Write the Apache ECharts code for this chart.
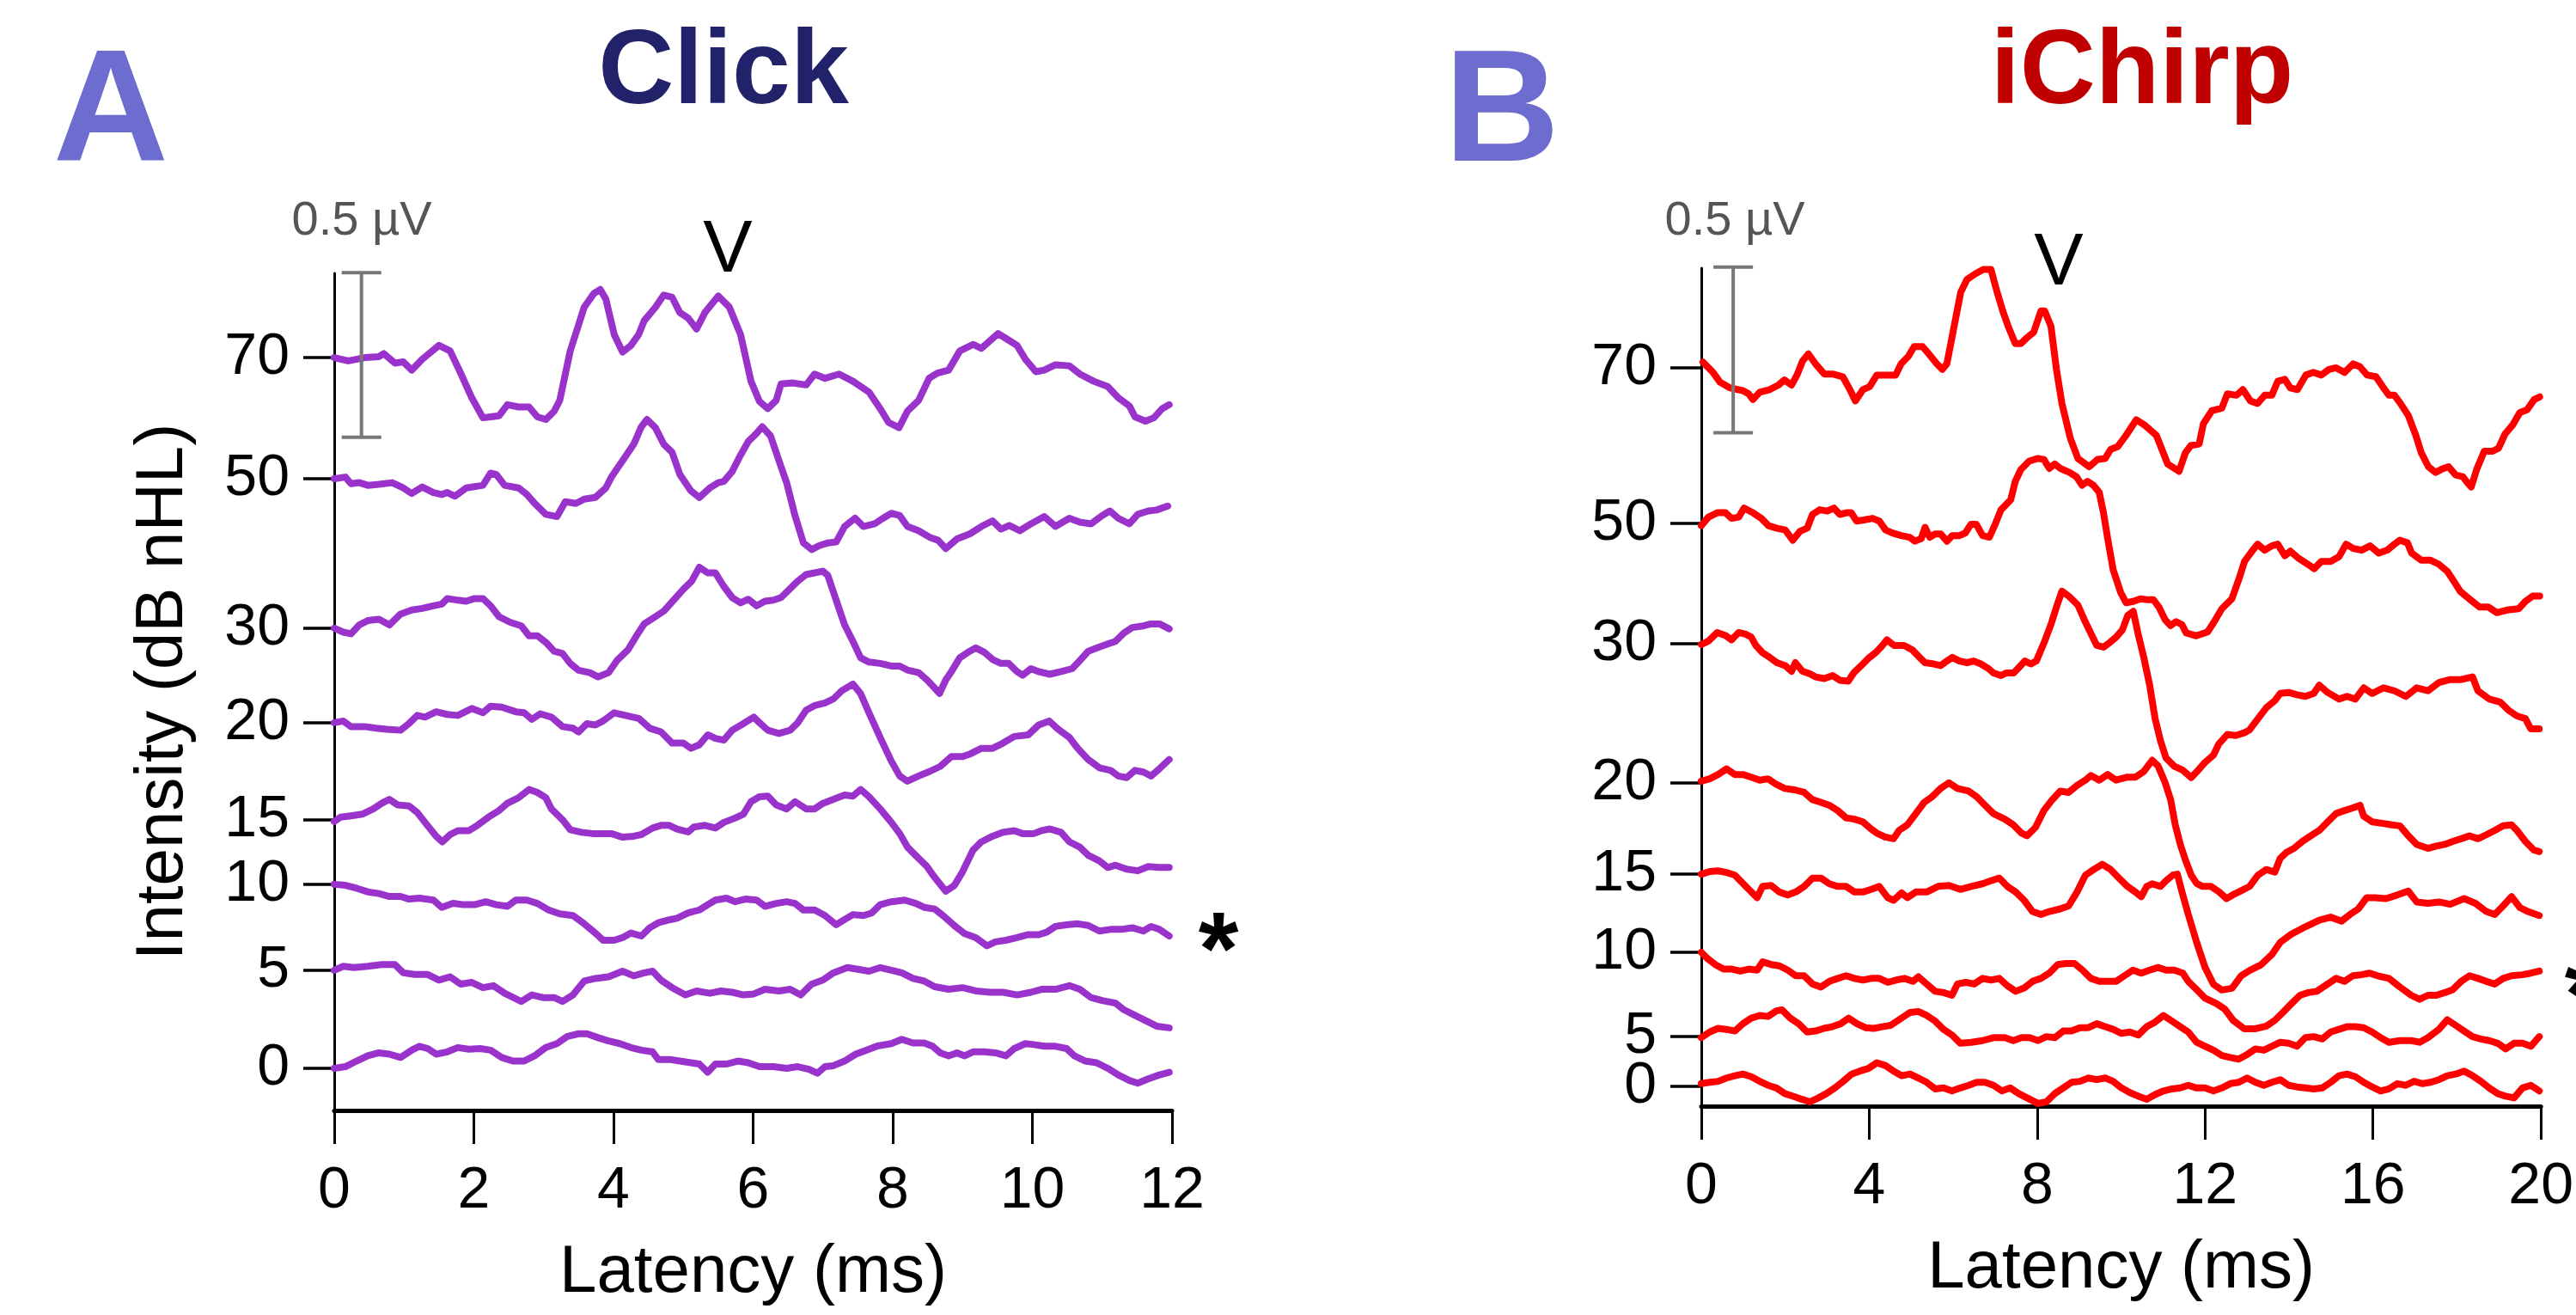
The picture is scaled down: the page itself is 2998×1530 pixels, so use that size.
<!DOCTYPE html>
<html><head><meta charset="utf-8">
<script src="https://cdn.jsdelivr.net/npm/echarts@6/dist/echarts.min.js"></script>
<style>html,body{margin:0;padding:0;background:#fff}#c{width:2998px;height:1530px}</style>
</head><body><div id="c"></div>
<script>
// ---- data ----
const levelLabels = ['70','50','30','20','15','10','5','0'];
// baseline offset of each trace on the µV axis (stacking of the waveforms)
const clickOffsets = [2.287, 1.919, 1.465, 1.178, 0.883, 0.687, 0.426, 0.128];
const chirpOffsets = [2.231, 1.761, 1.397, 0.977, 0.701, 0.465, 0.210, 0.060];
const clickTicks = [0, 2, 4, 6, 8, 10, 12];
const chirpTicks = [0, 4, 8, 12, 16, 20];
const scaleBarClick = [0.39, 2.545, 2.045]; // latency, top µV, bottom µV (0.5 µV)
const scaleBarChirp = [0.76, 2.535, 2.035];

// [latency ms, amplitude µV relative to trace baseline]
const click70 = [[0,0],[0.20,-0.010],[0.44,0],[0.64,0.003],[0.71,0.012],[0.87,-0.017],[0.99,-0.013],[1.11,-0.038],[1.26,-0.005],[1.50,0.037],[1.66,0.020],[1.81,-0.047],[1.97,-0.122],[2.13,-0.183],[2.24,-0.180],[2.36,-0.177],[2.48,-0.143],[2.64,-0.150],[2.79,-0.150],[2.91,-0.180],[3.03,-0.188],[3.15,-0.163],[3.23,-0.130],[3.38,0.020],[3.58,0.153],[3.72,0.195],[3.81,0.207],[3.89,0.178],[4.01,0.070],[4.13,0.017],[4.25,0.037],[4.36,0.070],[4.44,0.112],[4.60,0.153],[4.72,0.190],[4.84,0.183],[4.95,0.137],[5.07,0.120],[5.19,0.087],[5.31,0.137],[5.50,0.187],[5.66,0.153],[5.82,0.070],[5.97,-0.072],[6.09,-0.133],[6.21,-0.155],[6.33,-0.130],[6.40,-0.080],[6.56,-0.077],[6.76,-0.083],[6.88,-0.050],[7.03,-0.063],[7.23,-0.050],[7.43,-0.072],[7.66,-0.105],[7.82,-0.155],[7.94,-0.197],[8.09,-0.213],[8.21,-0.163],[8.37,-0.130],[8.52,-0.063],[8.64,-0.047],[8.80,-0.038],[8.96,0.020],[9.15,0.040],[9.27,0.028],[9.51,0.073],[9.66,0.053],[9.78,0.037],[9.90,-0.005],[10.05,-0.043],[10.17,-0.038],[10.33,-0.022],[10.53,-0.025],[10.68,-0.050],[10.88,-0.072],[11.08,-0.088],[11.23,-0.122],[11.39,-0.147],[11.47,-0.180],[11.62,-0.193],[11.74,-0.183],[11.86,-0.155],[11.96,-0.143]];
const click50 = [[0,0],[0.16,0.005],[0.24,-0.015],[0.36,-0.012],[0.48,-0.020],[0.64,-0.017],[0.83,-0.012],[0.99,-0.028],[1.11,-0.045],[1.26,-0.025],[1.42,-0.042],[1.54,-0.048],[1.62,-0.042],[1.73,-0.053],[1.89,-0.028],[2.13,-0.020],[2.24,0.017],[2.32,0.013],[2.44,-0.020],[2.64,-0.028],[2.76,-0.048],[2.87,-0.075],[3.03,-0.108],[3.19,-0.115],[3.31,-0.070],[3.46,-0.075],[3.58,-0.062],[3.74,-0.057],[3.89,-0.028],[3.97,0.005],[4.13,0.055],[4.29,0.105],[4.40,0.158],[4.48,0.180],[4.60,0.155],[4.72,0.105],[4.84,0.080],[4.95,0.013],[5.11,-0.037],[5.23,-0.057],[5.38,-0.028],[5.50,-0.012],[5.58,-0.008],[5.70,0.022],[5.82,0.072],[5.93,0.113],[6.05,0.138],[6.13,0.158],[6.25,0.130],[6.37,0.055],[6.48,-0.012],[6.60,-0.112],[6.72,-0.195],[6.84,-0.215],[6.95,-0.203],[7.07,-0.195],[7.19,-0.192],[7.31,-0.145],[7.46,-0.120],[7.58,-0.145],[7.74,-0.137],[7.86,-0.120],[7.98,-0.105],[8.10,-0.112],[8.21,-0.145],[8.37,-0.158],[8.53,-0.178],[8.65,-0.187],[8.76,-0.212],[8.92,-0.183],[9.11,-0.167],[9.27,-0.145],[9.43,-0.128],[9.55,-0.153],[9.67,-0.142],[9.82,-0.158],[9.98,-0.137],[10.17,-0.115],[10.33,-0.145],[10.53,-0.120],[10.68,-0.132],[10.84,-0.137],[11.00,-0.112],[11.11,-0.098],[11.23,-0.120],[11.39,-0.137],[11.51,-0.108],[11.66,-0.098],[11.78,-0.095],[11.94,-0.083]];
const click30 = [[0,0],[0.13,-0.012],[0.24,-0.017],[0.36,0.010],[0.48,0.023],[0.64,0.027],[0.79,0.010],[0.95,0.043],[1.11,0.055],[1.26,0.060],[1.42,0.068],[1.54,0.073],[1.62,0.090],[1.77,0.085],[1.89,0.082],[2.01,0.090],[2.13,0.090],[2.24,0.068],[2.36,0.035],[2.52,0.018],[2.68,0.007],[2.79,-0.023],[2.91,-0.023],[3.03,-0.043],[3.15,-0.070],[3.27,-0.077],[3.38,-0.107],[3.50,-0.128],[3.66,-0.135],[3.78,-0.148],[3.93,-0.135],[4.05,-0.098],[4.21,-0.065],[4.33,-0.023],[4.44,0.013],[4.60,0.035],[4.72,0.052],[4.84,0.080],[5.00,0.118],[5.12,0.143],[5.23,0.185],[5.35,0.168],[5.46,0.168],[5.58,0.127],[5.70,0.093],[5.82,0.077],[5.93,0.088],[6.05,0.068],[6.17,0.082],[6.29,0.085],[6.40,0.093],[6.52,0.118],[6.64,0.143],[6.76,0.163],[6.88,0.168],[7.00,0.173],[7.07,0.160],[7.15,0.110],[7.23,0.060],[7.31,0.010],[7.43,-0.040],[7.54,-0.090],[7.66,-0.103],[7.82,-0.107],[7.98,-0.115],[8.10,-0.115],[8.21,-0.127],[8.37,-0.135],[8.49,-0.157],[8.60,-0.182],[8.67,-0.198],[8.76,-0.157],[8.84,-0.132],[8.96,-0.090],[9.08,-0.073],[9.19,-0.060],[9.31,-0.073],[9.43,-0.095],[9.55,-0.107],[9.66,-0.107],[9.78,-0.132],[9.86,-0.143],[9.98,-0.123],[10.09,-0.132],[10.25,-0.140],[10.41,-0.132],[10.57,-0.123],[10.68,-0.098],[10.80,-0.070],[10.96,-0.057],[11.08,-0.048],[11.19,-0.040],[11.31,-0.015],[11.43,0.002],[11.59,0.007],[11.70,0.013],[11.82,0.013],[11.96,-0.002]];
const click20 = [[0,0],[0.13,0.005],[0.24,-0.012],[0.44,-0.012],[0.60,-0.017],[0.75,-0.020],[0.95,-0.023],[1.07,-0.003],[1.19,0.022],[1.30,0.017],[1.46,0.033],[1.62,0.025],[1.77,0.022],[1.97,0.043],[2.13,0.030],[2.24,0.050],[2.40,0.047],[2.60,0.033],[2.72,0.030],[2.83,0.010],[2.95,0.027],[3.11,0.017],[3.27,-0.012],[3.42,-0.017],[3.50,-0.028],[3.62,-0.003],[3.74,-0.007],[3.85,0.005],[4.01,0.030],[4.17,0.022],[4.36,0.013],[4.52,-0.017],[4.68,-0.028],[4.84,-0.062],[5.00,-0.062],[5.11,-0.078],[5.23,-0.067],[5.35,-0.037],[5.46,-0.048],[5.58,-0.053],[5.70,-0.023],[5.86,-0.003],[6.01,0.017],[6.09,0.000],[6.21,-0.023],[6.37,-0.033],[6.53,-0.023],[6.64,0.000],[6.76,0.038],[6.88,0.052],[7.03,0.060],[7.15,0.072],[7.27,0.097],[7.43,0.117],[7.54,0.088],[7.66,0.030],[7.82,-0.045],[7.98,-0.117],[8.10,-0.162],[8.21,-0.178],[8.37,-0.162],[8.53,-0.148],[8.68,-0.133],[8.84,-0.103],[9.00,-0.103],[9.11,-0.095],[9.27,-0.078],[9.43,-0.078],[9.58,-0.062],[9.74,-0.042],[9.94,-0.037],[10.09,-0.007],[10.24,0.005],[10.37,-0.020],[10.53,-0.045],[10.65,-0.078],[10.80,-0.112],[10.96,-0.137],[11.12,-0.145],[11.23,-0.162],[11.35,-0.167],[11.47,-0.145],[11.59,-0.150],[11.70,-0.162],[11.82,-0.140],[11.96,-0.112]];
const click15 = [[0,-0.005],[0.09,0.008],[0.24,0.012],[0.40,0.017],[0.56,0.033],[0.68,0.050],[0.79,0.062],[0.91,0.045],[1.07,0.042],[1.19,0.022],[1.30,-0.008],[1.46,-0.050],[1.55,-0.067],[1.66,-0.045],[1.77,-0.033],[1.93,-0.033],[2.05,-0.017],[2.21,0.008],[2.36,0.028],[2.48,0.050],[2.64,0.067],[2.79,0.092],[2.91,0.083],[3.03,0.067],[3.11,0.033],[3.27,0.000],[3.38,-0.030],[3.54,-0.038],[3.70,-0.042],[3.81,-0.042],[3.97,-0.042],[4.13,-0.053],[4.29,-0.050],[4.40,-0.045],[4.56,-0.025],[4.68,-0.017],[4.80,-0.017],[4.91,-0.028],[5.07,-0.037],[5.15,-0.022],[5.31,-0.017],[5.46,-0.025],[5.58,-0.008],[5.74,0.005],[5.86,0.017],[5.97,0.055],[6.09,0.070],[6.21,0.072],[6.33,0.045],[6.48,0.033],[6.60,0.055],[6.76,0.033],[6.88,0.033],[7.00,0.050],[7.15,0.062],[7.31,0.075],[7.43,0.072],[7.54,0.092],[7.66,0.070],[7.82,0.033],[7.98,-0.008],[8.10,-0.042],[8.21,-0.083],[8.37,-0.117],[8.49,-0.142],[8.60,-0.175],[8.76,-0.217],[8.88,-0.200],[9.00,-0.158],[9.15,-0.092],[9.27,-0.067],[9.43,-0.050],[9.58,-0.038],[9.74,-0.033],[9.86,-0.042],[10.02,-0.042],[10.13,-0.033],[10.25,-0.028],[10.41,-0.038],[10.53,-0.067],[10.68,-0.083],[10.80,-0.108],[10.96,-0.125],[11.08,-0.145],[11.19,-0.138],[11.35,-0.150],[11.51,-0.155],[11.66,-0.142],[11.82,-0.145],[11.96,-0.145]];
const click10 = [[0,0],[0.16,-0.003],[0.32,-0.012],[0.48,-0.023],[0.64,-0.028],[0.79,-0.037],[0.95,-0.037],[1.07,-0.045],[1.22,-0.042],[1.42,-0.048],[1.54,-0.070],[1.70,-0.058],[1.85,-0.062],[2.01,-0.062],[2.17,-0.053],[2.32,-0.062],[2.48,-0.067],[2.60,-0.048],[2.76,-0.048],[2.91,-0.058],[3.07,-0.078],[3.23,-0.090],[3.42,-0.095],[3.58,-0.120],[3.74,-0.148],[3.85,-0.170],[4.01,-0.170],[4.13,-0.162],[4.25,-0.148],[4.40,-0.157],[4.52,-0.132],[4.64,-0.117],[4.80,-0.108],[4.91,-0.103],[5.07,-0.087],[5.23,-0.078],[5.35,-0.062],[5.46,-0.048],[5.62,-0.042],[5.74,-0.053],[5.89,-0.045],[6.05,-0.048],[6.17,-0.067],[6.33,-0.058],[6.48,-0.053],[6.60,-0.058],[6.72,-0.078],[6.88,-0.078],[7.03,-0.095],[7.19,-0.123],[7.31,-0.107],[7.43,-0.092],[7.58,-0.095],[7.70,-0.087],[7.82,-0.062],[7.98,-0.053],[8.17,-0.048],[8.33,-0.058],[8.45,-0.070],[8.60,-0.075],[8.72,-0.095],[8.88,-0.125],[9.03,-0.150],[9.19,-0.162],[9.35,-0.187],[9.47,-0.175],[9.62,-0.170],[9.78,-0.162],[9.94,-0.153],[10.09,-0.153],[10.21,-0.145],[10.33,-0.128],[10.49,-0.123],[10.65,-0.120],[10.80,-0.125],[10.96,-0.142],[11.12,-0.137],[11.27,-0.137],[11.43,-0.132],[11.59,-0.142],[11.70,-0.128],[11.82,-0.137],[11.96,-0.157]];
const click5 = [[0,0],[0.13,0.012],[0.28,0.008],[0.48,0.012],[0.68,0.017],[0.87,0.017],[0.99,-0.008],[1.15,-0.013],[1.34,-0.013],[1.50,-0.030],[1.66,-0.020],[1.81,-0.042],[1.97,-0.037],[2.13,-0.053],[2.28,-0.047],[2.44,-0.070],[2.68,-0.095],[2.83,-0.075],[2.99,-0.083],[3.15,-0.083],[3.27,-0.095],[3.42,-0.075],[3.58,-0.033],[3.74,-0.025],[3.93,-0.020],[4.13,-0.003],[4.29,-0.017],[4.44,-0.008],[4.56,-0.003],[4.68,-0.030],[4.84,-0.053],[5.03,-0.075],[5.19,-0.063],[5.38,-0.070],[5.54,-0.063],[5.70,-0.067],[5.86,-0.075],[6.01,-0.072],[6.17,-0.058],[6.37,-0.063],[6.53,-0.058],[6.68,-0.075],[6.84,-0.042],[7.00,-0.030],[7.15,-0.008],[7.35,0.008],[7.50,0.003],[7.66,-0.003],[7.82,0.008],[7.98,0.000],[8.13,-0.008],[8.29,-0.025],[8.45,-0.033],[8.60,-0.050],[8.80,-0.058],[9.00,-0.053],[9.19,-0.063],[9.39,-0.067],[9.58,-0.067],[9.78,-0.075],[9.98,-0.067],[10.13,-0.058],[10.33,-0.058],[10.53,-0.047],[10.68,-0.058],[10.84,-0.083],[11.00,-0.092],[11.19,-0.100],[11.31,-0.120],[11.47,-0.137],[11.62,-0.153],[11.78,-0.170],[11.96,-0.175]];
const click0 = [[0,0],[0.16,0.005],[0.32,0.022],[0.48,0.038],[0.64,0.047],[0.79,0.043],[0.95,0.033],[1.11,0.055],[1.22,0.067],[1.34,0.060],[1.46,0.043],[1.62,0.050],[1.77,0.063],[1.93,0.058],[2.09,0.060],[2.24,0.055],[2.40,0.033],[2.56,0.022],[2.72,0.022],[2.87,0.038],[3.03,0.063],[3.19,0.075],[3.34,0.097],[3.50,0.105],[3.62,0.105],[3.78,0.093],[3.93,0.083],[4.09,0.075],[4.25,0.063],[4.40,0.055],[4.56,0.050],[4.64,0.027],[4.80,0.027],[4.95,0.022],[5.11,0.017],[5.23,0.013],[5.35,-0.012],[5.46,0.013],[5.62,0.013],[5.78,0.022],[5.93,0.017],[6.09,0.005],[6.29,0.005],[6.48,0.000],[6.64,0.005],[6.80,-0.003],[6.92,-0.015],[7.03,0.005],[7.15,0.008],[7.31,0.022],[7.47,0.043],[7.62,0.055],[7.78,0.068],[7.98,0.075],[8.13,0.088],[8.29,0.077],[8.45,0.077],[8.57,0.067],[8.68,0.047],[8.80,0.038],[8.92,0.047],[9.03,0.038],[9.15,0.050],[9.31,0.050],[9.47,0.047],[9.62,0.038],[9.74,0.060],[9.90,0.075],[10.02,0.072],[10.17,0.067],[10.33,0.067],[10.49,0.060],[10.60,0.038],[10.76,0.022],[10.92,0.017],[11.08,0.000],[11.23,-0.020],[11.39,-0.037],[11.51,-0.045],[11.66,-0.032],[11.82,-0.020],[11.96,-0.012]];

const chirp70 = [[0.04,0.017],[0.28,-0.014],[0.45,-0.044],[0.69,-0.061],[0.99,-0.069],[1.13,-0.079],[1.23,-0.096],[1.39,-0.074],[1.63,-0.066],[1.84,-0.052],[1.98,-0.037],[2.15,-0.052],[2.28,-0.022],[2.41,0.020],[2.55,0.042],[2.72,0.012],[2.93,-0.019],[3.13,-0.019],[3.37,-0.027],[3.54,-0.066],[3.67,-0.100],[3.85,-0.066],[4.01,-0.057],[4.18,-0.022],[4.42,-0.022],[4.63,-0.022],[4.76,0.012],[4.93,0.034],[5.07,0.064],[5.27,0.064],[5.44,0.039],[5.61,0.012],[5.74,-0.005],[5.85,0.012],[6.01,0.117],[6.18,0.228],[6.33,0.267],[6.53,0.284],[6.72,0.297],[6.90,0.297],[7.03,0.236],[7.18,0.172],[7.31,0.125],[7.48,0.073],[7.61,0.073],[7.75,0.090],[7.92,0.108],[8.09,0.172],[8.18,0.172],[8.33,0.125],[8.46,-0.005],[8.59,-0.108],[8.79,-0.213],[8.97,-0.274],[9.24,-0.299],[9.44,-0.277],[9.62,-0.274],[9.75,-0.247],[9.92,-0.238],[10.12,-0.204],[10.36,-0.157],[10.57,-0.174],[10.84,-0.204],[11.11,-0.291],[11.38,-0.313],[11.53,-0.257],[11.66,-0.235],[11.86,-0.230],[11.96,-0.169],[12.16,-0.130],[12.40,-0.122],[12.53,-0.079],[12.75,-0.083],[12.90,-0.066],[13.08,-0.100],[13.25,-0.108],[13.42,-0.083],[13.59,-0.083],[13.73,-0.041],[13.90,-0.035],[14.03,-0.061],[14.20,-0.066],[14.40,-0.022],[14.58,-0.014],[14.77,-0.022],[14.95,-0.005],[15.12,0.000],[15.32,-0.014],[15.53,0.012],[15.69,0.003],[15.86,-0.022],[16.07,-0.027],[16.23,-0.057],[16.38,-0.083],[16.51,-0.083],[16.64,-0.105],[16.84,-0.144],[17.02,-0.204],[17.15,-0.257],[17.32,-0.299],[17.49,-0.316],[17.63,-0.307],[17.80,-0.299],[17.97,-0.324],[18.14,-0.329],[18.24,-0.346],[18.34,-0.360],[18.47,-0.307],[18.65,-0.252],[18.85,-0.252],[18.99,-0.243],[19.15,-0.199],[19.32,-0.174],[19.50,-0.135],[19.67,-0.127],[19.84,-0.096],[19.97,-0.088]];
const chirp50 = [[0,-0.007],[0.17,0.019],[0.38,0.032],[0.58,0.032],[0.72,0.015],[0.89,0.019],[1.02,0.046],[1.23,0.032],[1.43,0.015],[1.60,-0.007],[1.80,-0.015],[2.00,-0.020],[2.18,-0.051],[2.35,-0.024],[2.52,-0.015],[2.65,0.027],[2.82,0.041],[3.00,0.037],[3.16,0.046],[3.30,0.027],[3.46,0.032],[3.57,0.032],[3.70,0.007],[3.87,0.010],[4.08,0.015],[4.24,0.007],[4.39,-0.020],[4.55,-0.029],[4.76,-0.037],[4.96,-0.042],[5.09,-0.054],[5.24,-0.046],[5.33,-0.012],[5.44,-0.042],[5.57,-0.032],[5.70,-0.032],[5.85,-0.054],[5.98,-0.037],[6.15,-0.037],[6.29,-0.029],[6.42,-0.003],[6.55,-0.003],[6.70,-0.037],[6.86,-0.042],[7.00,-0.003],[7.14,0.041],[7.24,0.054],[7.37,0.071],[7.48,0.127],[7.61,0.162],[7.81,0.188],[8.02,0.196],[8.16,0.193],[8.29,0.166],[8.42,0.179],[8.55,0.166],[8.77,0.154],[8.94,0.140],[9.07,0.115],[9.20,0.127],[9.34,0.115],[9.48,0.093],[9.58,0.032],[9.68,-0.046],[9.81,-0.140],[9.99,-0.209],[10.12,-0.240],[10.29,-0.236],[10.46,-0.228],[10.64,-0.231],[10.77,-0.231],[10.90,-0.253],[11.05,-0.292],[11.18,-0.309],[11.31,-0.297],[11.45,-0.306],[11.55,-0.331],[11.79,-0.340],[12.06,-0.328],[12.20,-0.301],[12.40,-0.258],[12.64,-0.228],[12.81,-0.167],[12.94,-0.115],[13.12,-0.084],[13.25,-0.063],[13.42,-0.081],[13.59,-0.068],[13.73,-0.063],[13.90,-0.098],[14.03,-0.084],[14.23,-0.106],[14.44,-0.123],[14.60,-0.137],[14.77,-0.115],[14.99,-0.115],[15.19,-0.101],[15.36,-0.063],[15.53,-0.076],[15.73,-0.081],[15.93,-0.068],[16.14,-0.090],[16.34,-0.081],[16.51,-0.063],[16.64,-0.051],[16.82,-0.059],[16.92,-0.090],[17.15,-0.111],[17.36,-0.111],[17.56,-0.123],[17.77,-0.145],[17.93,-0.176],[18.08,-0.206],[18.32,-0.231],[18.54,-0.253],[18.75,-0.253],[18.95,-0.270],[19.19,-0.262],[19.47,-0.258],[19.63,-0.236],[19.80,-0.220],[19.97,-0.220]];
const chirp30 = [[0,-0.002],[0.17,0.008],[0.38,0.034],[0.58,0.025],[0.72,0.012],[0.89,0.034],[1.06,0.029],[1.19,0.020],[1.30,-0.005],[1.46,-0.027],[1.63,-0.041],[1.80,-0.057],[2.00,-0.066],[2.15,-0.083],[2.24,-0.057],[2.41,-0.083],[2.59,-0.091],[2.72,-0.100],[2.93,-0.105],[3.13,-0.096],[3.30,-0.110],[3.50,-0.113],[3.63,-0.088],[3.81,-0.066],[3.98,-0.044],[4.15,-0.027],[4.28,-0.010],[4.42,0.012],[4.59,-0.005],[4.83,-0.005],[5.03,-0.019],[5.20,-0.041],[5.33,-0.057],[5.54,-0.061],[5.70,-0.066],[5.85,-0.052],[5.98,-0.041],[6.15,-0.052],[6.33,-0.057],[6.49,-0.052],[6.66,-0.061],[6.83,-0.074],[6.96,-0.088],[7.14,-0.096],[7.27,-0.088],[7.44,-0.088],[7.57,-0.071],[7.71,-0.052],[7.85,-0.061],[7.98,-0.052],[8.09,-0.019],[8.18,0.008],[8.33,0.059],[8.46,0.111],[8.59,0.159],[8.77,0.142],[8.97,0.117],[9.14,0.068],[9.27,0.034],[9.42,-0.005],[9.58,-0.010],[9.72,0.003],[9.88,0.020],[10.03,0.042],[10.16,0.086],[10.29,0.098],[10.41,0.027],[10.54,-0.041],[10.68,-0.125],[10.81,-0.226],[10.94,-0.294],[11.07,-0.345],[11.27,-0.370],[11.47,-0.382],[11.67,-0.404],[11.80,-0.387],[12.00,-0.358],[12.20,-0.336],[12.33,-0.302],[12.53,-0.274],[12.73,-0.277],[12.93,-0.269],[13.06,-0.260],[13.26,-0.226],[13.46,-0.193],[13.66,-0.172],[13.79,-0.150],[13.99,-0.147],[14.19,-0.154],[14.39,-0.159],[14.59,-0.150],[14.72,-0.125],[14.92,-0.147],[15.19,-0.167],[15.38,-0.159],[15.58,-0.167],[15.78,-0.133],[15.98,-0.150],[16.25,-0.133],[16.51,-0.142],[16.78,-0.159],[17.04,-0.133],[17.31,-0.142],[17.57,-0.117],[17.84,-0.108],[18.10,-0.108],[18.37,-0.100],[18.50,-0.142],[18.77,-0.167],[19.03,-0.176],[19.23,-0.201],[19.43,-0.218],[19.63,-0.226],[19.76,-0.257],[19.96,-0.257]];
const chirp20 = [[0,0.005],[0.20,0.012],[0.40,0.025],[0.60,0.042],[0.80,0.025],[0.99,0.025],[1.19,0.017],[1.39,0.008],[1.59,0.012],[1.79,-0.005],[1.99,-0.017],[2.25,-0.022],[2.45,-0.029],[2.65,-0.051],[2.85,-0.059],[3.05,-0.068],[3.25,-0.084],[3.45,-0.106],[3.65,-0.110],[3.85,-0.118],[4.05,-0.140],[4.18,-0.152],[4.38,-0.164],[4.58,-0.169],[4.71,-0.144],[4.91,-0.127],[5.11,-0.093],[5.31,-0.059],[5.50,-0.042],[5.70,-0.017],[5.90,0.000],[6.10,-0.017],[6.37,-0.025],[6.56,-0.042],[6.76,-0.068],[6.96,-0.093],[7.23,-0.110],[7.43,-0.127],[7.63,-0.152],[7.76,-0.160],[7.96,-0.135],[8.16,-0.084],[8.36,-0.051],[8.55,-0.025],[8.75,-0.029],[8.95,-0.008],[9.15,0.008],[9.28,0.022],[9.48,0.008],[9.68,0.025],[9.88,0.008],[10.15,0.017],[10.34,0.017],[10.54,0.034],[10.74,0.068],[10.88,0.051],[11.05,0.000],[11.18,-0.051],[11.29,-0.127],[11.41,-0.186],[11.54,-0.236],[11.67,-0.279],[11.80,-0.304],[11.94,-0.313],[12.14,-0.313],[12.33,-0.329],[12.51,-0.350],[12.67,-0.338],[12.86,-0.326],[13.06,-0.313],[13.26,-0.279],[13.46,-0.262],[13.66,-0.270],[13.79,-0.228],[13.93,-0.211],[14.12,-0.198],[14.32,-0.177],[14.52,-0.160],[14.72,-0.144],[14.92,-0.118],[15.12,-0.093],[15.32,-0.084],[15.52,-0.076],[15.69,-0.068],[15.78,-0.101],[15.98,-0.118],[16.25,-0.123],[16.45,-0.127],[16.64,-0.130],[16.84,-0.160],[17.04,-0.186],[17.31,-0.198],[17.51,-0.191],[17.71,-0.186],[17.90,-0.177],[18.10,-0.169],[18.30,-0.160],[18.50,-0.169],[18.70,-0.157],[18.90,-0.144],[19.10,-0.130],[19.30,-0.127],[19.43,-0.144],[19.63,-0.177],[19.83,-0.203],[19.96,-0.208]];
const chirp15 = [[0,0],[0.20,0.008],[0.40,0.010],[0.60,0.005],[0.80,-0.003],[0.93,-0.020],[1.13,-0.046],[1.33,-0.071],[1.46,-0.037],[1.66,-0.034],[1.86,-0.054],[2.06,-0.063],[2.25,-0.054],[2.45,-0.037],[2.65,-0.012],[2.85,-0.012],[3.05,-0.029],[3.25,-0.037],[3.45,-0.037],[3.65,-0.054],[3.85,-0.054],[4.05,-0.046],[4.24,-0.037],[4.44,-0.071],[4.58,-0.079],[4.77,-0.057],[4.91,-0.071],[5.11,-0.054],[5.37,-0.054],[5.64,-0.037],[5.90,-0.034],[6.17,-0.046],[6.43,-0.037],[6.70,-0.029],[6.90,-0.020],[7.10,-0.012],[7.29,-0.037],[7.49,-0.054],[7.69,-0.079],[7.89,-0.113],[8.09,-0.122],[8.29,-0.113],[8.55,-0.105],[8.75,-0.096],[8.95,-0.054],[9.15,-0.003],[9.35,0.014],[9.55,0.030],[9.75,0.014],[9.95,-0.012],[10.15,-0.037],[10.34,-0.054],[10.48,-0.068],[10.61,-0.037],[10.74,-0.029],[10.94,-0.037],[11.07,-0.020],[11.23,-0.003],[11.34,0.000],[11.45,-0.054],[11.60,-0.122],[11.80,-0.206],[12.00,-0.282],[12.20,-0.333],[12.40,-0.350],[12.64,-0.345],[12.86,-0.307],[13.06,-0.291],[13.33,-0.274],[13.59,-0.243],[13.79,-0.206],[14.06,-0.181],[14.39,-0.159],[14.72,-0.139],[14.99,-0.130],[15.25,-0.142],[15.45,-0.122],[15.65,-0.105],[15.85,-0.071],[16.05,-0.071],[16.31,-0.074],[16.58,-0.063],[16.84,-0.051],[17.04,-0.084],[17.31,-0.088],[17.57,-0.084],[17.84,-0.091],[18.17,-0.074],[18.44,-0.088],[18.70,-0.113],[18.90,-0.122],[19.10,-0.096],[19.30,-0.068],[19.50,-0.101],[19.69,-0.113],[19.96,-0.125]];
const chirp10 = [[0,0],[0.13,-0.017],[0.33,-0.037],[0.53,-0.051],[0.73,-0.051],[0.93,-0.057],[1.13,-0.051],[1.33,-0.054],[1.46,-0.029],[1.66,-0.037],[1.86,-0.041],[2.06,-0.054],[2.25,-0.071],[2.45,-0.071],[2.65,-0.096],[2.85,-0.105],[3.05,-0.088],[3.25,-0.079],[3.45,-0.071],[3.65,-0.079],[3.85,-0.084],[4.05,-0.079],[4.24,-0.079],[4.44,-0.091],[4.64,-0.084],[4.84,-0.079],[5.04,-0.088],[5.17,-0.074],[5.37,-0.096],[5.57,-0.118],[5.77,-0.122],[5.97,-0.130],[6.10,-0.096],[6.30,-0.091],[6.50,-0.096],[6.70,-0.079],[6.90,-0.084],[7.10,-0.079],[7.29,-0.101],[7.49,-0.118],[7.69,-0.108],[7.89,-0.088],[8.09,-0.079],[8.29,-0.063],[8.49,-0.037],[8.69,-0.034],[8.89,-0.034],[9.08,-0.054],[9.28,-0.079],[9.48,-0.088],[9.68,-0.088],[9.88,-0.088],[10.08,-0.071],[10.28,-0.054],[10.48,-0.063],[10.68,-0.054],[10.88,-0.046],[11.07,-0.054],[11.27,-0.054],[11.47,-0.063],[11.60,-0.088],[11.80,-0.113],[12.00,-0.139],[12.27,-0.155],[12.47,-0.172],[12.67,-0.206],[12.93,-0.231],[13.20,-0.231],[13.46,-0.223],[13.66,-0.206],[13.86,-0.181],[14.06,-0.155],[14.26,-0.130],[14.46,-0.122],[14.66,-0.118],[14.92,-0.096],[15.12,-0.079],[15.32,-0.088],[15.52,-0.071],[15.72,-0.068],[15.92,-0.063],[16.11,-0.071],[16.38,-0.079],[16.64,-0.105],[16.91,-0.130],[17.11,-0.142],[17.31,-0.130],[17.51,-0.130],[17.71,-0.122],[17.90,-0.113],[18.10,-0.088],[18.30,-0.071],[18.50,-0.079],[18.70,-0.088],[18.90,-0.096],[19.10,-0.079],[19.30,-0.071],[19.56,-0.068],[19.76,-0.063],[19.96,-0.057]];
const chirp5 = [[0,-0.003],[0.20,0.014],[0.40,0.025],[0.60,0.022],[0.80,0.017],[0.99,0.039],[1.19,0.056],[1.39,0.064],[1.59,0.061],[1.79,0.078],[1.92,0.081],[2.12,0.056],[2.32,0.039],[2.52,0.014],[2.72,0.017],[2.92,0.025],[3.12,0.030],[3.32,0.039],[3.51,0.056],[3.71,0.039],[3.91,0.027],[4.11,0.025],[4.31,0.030],[4.51,0.034],[4.71,0.051],[4.97,0.073],[5.17,0.076],[5.37,0.064],[5.57,0.047],[5.77,0.022],[5.97,0.005],[6.17,-0.020],[6.43,-0.017],[6.70,-0.012],[6.96,-0.003],[7.23,-0.003],[7.43,-0.012],[7.63,-0.003],[7.82,-0.003],[8.02,-0.012],[8.22,0.000],[8.42,-0.003],[8.62,0.017],[8.82,0.017],[9.02,0.027],[9.22,0.027],[9.42,0.039],[9.62,0.030],[9.81,0.022],[10.01,0.010],[10.21,0.014],[10.41,0.005],[10.61,0.030],[10.81,0.044],[11.01,0.064],[11.21,0.047],[11.41,0.030],[11.60,0.014],[11.80,-0.017],[12.00,-0.029],[12.20,-0.041],[12.40,-0.057],[12.60,-0.063],[12.80,-0.068],[13.00,-0.054],[13.20,-0.037],[13.40,-0.041],[13.59,-0.029],[13.79,-0.017],[13.99,-0.020],[14.19,-0.029],[14.39,-0.003],[14.59,0.000],[14.79,-0.007],[14.99,0.014],[15.19,0.022],[15.38,0.030],[15.58,0.030],[15.78,0.027],[15.98,0.014],[16.18,-0.003],[16.38,-0.017],[16.64,-0.012],[16.91,-0.012],[17.11,-0.017],[17.31,-0.003],[17.57,0.022],[17.77,0.051],[17.97,0.034],[18.17,0.017],[18.37,0.000],[18.57,-0.007],[18.77,-0.012],[18.97,-0.020],[19.16,-0.037],[19.36,-0.020],[19.56,-0.020],[19.76,-0.029],[19.96,0.000]];
const chirp0 = [[0,0.008],[0.20,0.012],[0.40,0.015],[0.60,0.025],[0.80,0.032],[0.99,0.037],[1.19,0.029],[1.39,0.015],[1.59,0.003],[1.79,-0.005],[1.99,-0.022],[2.19,-0.030],[2.39,-0.039],[2.59,-0.047],[2.79,-0.035],[2.98,-0.022],[3.18,-0.005],[3.38,0.015],[3.58,0.037],[3.78,0.046],[3.98,0.054],[4.18,0.071],[4.38,0.063],[4.58,0.046],[4.77,0.032],[4.97,0.037],[5.17,0.025],[5.37,0.012],[5.57,-0.008],[5.77,-0.005],[5.97,-0.014],[6.17,-0.005],[6.37,0.003],[6.56,0.012],[6.76,0.012],[6.96,0.003],[7.16,-0.014],[7.36,-0.005],[7.56,-0.022],[7.76,-0.035],[8.02,-0.052],[8.22,-0.047],[8.42,-0.022],[8.62,-0.005],[8.82,0.012],[9.02,0.015],[9.22,0.025],[9.42,0.020],[9.62,0.025],[9.81,0.015],[10.01,-0.005],[10.21,-0.019],[10.41,-0.030],[10.61,-0.039],[10.81,-0.025],[11.01,-0.014],[11.21,-0.008],[11.41,-0.005],[11.60,0.003],[11.80,-0.005],[12.00,-0.005],[12.20,-0.014],[12.40,-0.005],[12.60,0.008],[12.80,0.012],[13.00,0.025],[13.20,0.012],[13.40,0.003],[13.59,0.012],[13.79,0.020],[13.99,0.003],[14.19,-0.002],[14.39,-0.005],[14.59,-0.008],[14.79,-0.005],[14.99,0.012],[15.19,0.032],[15.38,0.037],[15.58,0.029],[15.78,0.012],[15.98,-0.002],[16.18,-0.014],[16.38,-0.008],[16.58,0.008],[16.78,0.003],[16.98,0.015],[17.18,0.008],[17.37,0.012],[17.57,0.020],[17.77,0.032],[17.97,0.037],[18.17,0.046],[18.37,0.032],[18.57,0.015],[18.77,-0.005],[18.97,-0.022],[19.16,-0.030],[19.36,-0.035],[19.56,-0.005],[19.76,0.003],[19.96,-0.014]];

const clickTraces = [click70, click50, click30, click20, click15, click10, click5, click0];
const chirpTraces = [chirp70, chirp50, chirp30, chirp20, chirp15, chirp10, chirp5, chirp0];

// ---- styles ----
const FF = "'Liberation Sans', Arial, Helvetica, sans-serif";
const clickColor = '#9933cc';
const chirpColor = '#ff0000';

function traceSeries(traces, offsets, color, idx) {
  return traces.map((tr, i) => ({
    type: 'line', xAxisIndex: idx, yAxisIndex: idx, name: levelLabels[i],
    data: tr.map(p => [p[0], p[1] + offsets[i]]),
    showSymbol: false, symbol: 'none', smooth: false, silent: true,
    lineStyle: { color: color, width: 8, cap: 'round', join: 'round' },
    z: 3
  }));
}
function scaleBarSeries(bar, idx) {
  return {
    type: 'custom', xAxisIndex: idx, yAxisIndex: idx, silent: true, clip: false, z: 4,
    data: [bar],
    renderItem: function (params, api) {
      const a = api.coord([api.value(0), api.value(1)]);
      const b = api.coord([api.value(0), api.value(2)]);
      const hw = 23, st = { stroke: '#777777', lineWidth: 4 };
      return { type: 'group', children: [
        { type: 'line', shape: { x1: a[0], y1: a[1], x2: b[0], y2: b[1] }, style: st },
        { type: 'line', shape: { x1: a[0] - hw, y1: a[1], x2: a[0] + hw, y2: a[1] }, style: st },
        { type: 'line', shape: { x1: b[0] - hw, y1: b[1], x2: b[0] + hw, y2: b[1] }, style: st }
      ]};
    }
  };
}
function xAxisCfg(idx, max, interval) {
  return {
    gridIndex: idx, type: 'value', min: 0, max: max, interval: interval,
    name: 'Latency (ms)', nameLocation: 'middle', nameGap: 150,
    nameTextStyle: { fontSize: 78, fontFamily: FF, color: '#000' },
    axisLine: { show: true, onZero: false, lineStyle: { color: '#000', width: 5 } },
    axisTick: { show: true, length: 39, lineStyle: { color: '#000', width: 3 } },
    axisLabel: { fontSize: 68, fontFamily: FF, color: '#000', margin: 60, hideOverlap: false },
    splitLine: { show: false }
  };
}
// y axis: ticks at every trace baseline; labels at the given subset of baselines
function yAxisCfg(idx, max, offsets, labelIdx, withName, showLine) {
  const fmt = v => { const k = offsets.findIndex(o => Math.abs(o - v) < 1e-6); return k >= 0 ? levelLabels[k] : ''; };
  return {
    gridIndex: idx, type: 'value', min: 0, max: max, position: 'left', offset: 0,
    name: withName ? 'Intensity (dB nHL)' : '', nameLocation: 'middle', nameGap: 160,
    nameTextStyle: { fontSize: 78, fontFamily: FF, color: '#000' },
    axisLine: { show: showLine, onZero: false, lineStyle: { color: '#000', width: 3 } },
    axisTick: { show: showLine, length: 36, customValues: offsets, lineStyle: { color: '#000', width: 3.5 } },
    axisLabel: { show: true, customValues: labelIdx.map(k => offsets[k]), formatter: fmt, fontSize: 68, fontFamily: FF, color: '#000',
      margin: 52, hideOverlap: false, showMinLabel: true, showMaxLabel: true },
    splitLine: { show: false }
  };
}
function txt(x, y, text, size, color, bold) {
  return { type: 'text', x: x, y: y, silent: true, z: 10,
    style: { text: text, fontSize: size, fontWeight: bold ? 'bold' : 'normal', fontFamily: FF,
      fill: color, align: 'center', verticalAlign: 'middle', textAlign: 'center', textVerticalAlign: 'middle' } };
}

const chart = echarts.init(document.getElementById('c'), null, { renderer: 'canvas' });
chart.setOption({
  animation: false,
  backgroundColor: '#ffffff',
  grid: [
    { left: 389, top: 318, width: 975, height: 974 },
    { left: 1980, top: 312, width: 980, height: 975 }
  ],
  xAxis: [xAxisCfg(0, 12, 2), xAxisCfg(1, 20, 4)],
  yAxis: [
    yAxisCfg(0, 2.543, clickOffsets, [0, 1, 2, 3, 4, 5, 6, 7], true, true),
    yAxisCfg(1, 2.532, chirpOffsets, [0, 1, 2, 3, 4, 5, 6], false, true),
    yAxisCfg(1, 2.532, chirpOffsets, [7], false, false)
  ],
  series: [].concat(
    traceSeries(clickTraces, clickOffsets, clickColor, 0),
    traceSeries(chirpTraces, chirpOffsets, chirpColor, 1),
    [scaleBarSeries(scaleBarClick, 0), scaleBarSeries(scaleBarChirp, 1)]
  ),
  graphic: [
    txt(129, 136, 'A', 186, '#6c6dcf', true),
    txt(1748, 136, 'B', 186, '#6c6dcf', true),
    txt(842, 86, 'Click', 122, '#21226a', true),
    txt(2493, 86, 'iChirp', 122, '#c00000', true),
    txt(421, 258, '0.5 µV', 56, '#555555', false),
    txt(2019, 258, '0.5 µV', 56, '#555555', false),
    txt(847, 292, 'V', 86, '#000000', false),
    txt(2396, 307, 'V', 86, '#000000', false),
    txt(1418, 1112, '*', 120, '#000000', true),
    txt(3008, 1165, '*', 120, '#000000', true)
  ]
});
</script></body></html>
